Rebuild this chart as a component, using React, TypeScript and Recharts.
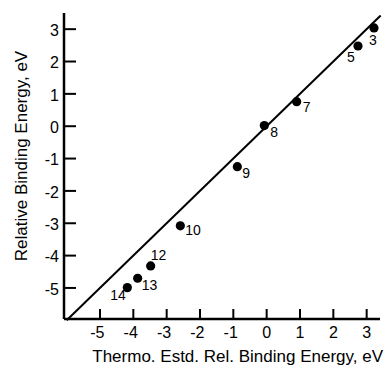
import React from "react";
import {
  ScatterChart,
  Scatter,
  XAxis,
  YAxis,
  ReferenceLine,
  Label,
} from "recharts";

// ---- data ----
const POINT_IDS = ["3", "5", "7", "8", "9", "10", "12", "13", "14"];
const THERMO_X = [3.22, 2.74, 0.9, -0.07, -0.88, -2.59, -3.48, -3.87, -4.18];
const RELATIVE_Y = [3.04, 2.48, 0.76, 0.02, -1.25, -3.08, -4.32, -4.7, -4.99];
const X_TICKS = [-5, -4, -3, -2, -1, 0, 1, 2, 3];
const Y_TICKS = [-5, -4, -3, -2, -1, 0, 1, 2, 3];
const X_DOMAIN = [-6.08, 3.4];
const Y_DOMAIN = [-5.96, 3.5];
const IDENTITY_LINE = [-6, 3.42];
const X_TITLE = "Thermo. Estd. Rel. Binding Energy, eV";
const Y_TITLE = "Relative Binding Energy, eV";

// ---- styles ----
const FONT = "'Liberation Sans', Arial, Helvetica, sans-serif";
const LABEL_OFFSET: Record<string, [number, number, string]> = {
  "3": [-5, 17, "start"],
  "5": [-11, 16, "start"],
  "7": [6, 10, "start"],
  "8": [6, 11, "start"],
  "9": [5, 11, "start"],
  "10": [5, 9, "start"],
  "12": [0, -6, "start"],
  "13": [4, 12, "start"],
  "14": [-17, 12, "start"],
};

const points = POINT_IDS.map((id, i) => ({ id, x: THERMO_X[i], y: RELATIVE_Y[i] }));

const BottomTick = (props: any) => {
  const { x, y, payload } = props;
  return (
    <g>
      <line x1={x} y1={y} x2={x} y2={y - 10} stroke="#000" strokeWidth={2} />
      <text x={x + 4.5} y={y + 19} textAnchor="end" fontSize={16} fontFamily={FONT} fill="#000">
        {String(payload.value)}
      </text>
    </g>
  );
};

const TopTick = (props: any) => {
  const { x, y } = props;
  return <line x1={x} y1={y} x2={x} y2={y + 12} stroke="#000" strokeWidth={2} />;
};

const LeftTick = (props: any) => {
  const { x, y, payload } = props;
  return (
    <g>
      <line x1={x} y1={y} x2={x + 12} y2={y} stroke="#000" strokeWidth={2} />
      <text x={x - 5} y={y + 6.7} textAnchor="end" fontSize={16} fontFamily={FONT} fill="#000">
        {String(payload.value)}
      </text>
    </g>
  );
};

const RightTick = (props: any) => {
  const { x, y } = props;
  return <line x1={x} y1={y} x2={x - 11} y2={y} stroke="#000" strokeWidth={2} />;
};

const Dot = (props: any) => {
  const { cx, cy, payload } = props;
  const off = LABEL_OFFSET[payload.id] || [5, 10, "start"];
  return (
    <g>
      <circle cx={cx} cy={cy} r={4.6} fill="#000" />
      <text
        x={cx + off[0]}
        y={cy + off[1]}
        textAnchor={off[2] as any}
        fontSize={14}
        fontFamily={FONT}
        fill="#000"
      >
        {payload.id}
      </text>
    </g>
  );
};

const XTitle = (props: any) => {
  const vb = props.viewBox || { x: 64, y: 319, width: 316, height: 49 };
  return (
    <text
      x={vb.x + vb.width + 3}
      y={vb.y + 43}
      textAnchor="end"
      fontSize={17}
      fontFamily={FONT}
      fill="#000"
    >
      {X_TITLE}
    </text>
  );
};

const YTitle = (props: any) => {
  const vb = props.viewBox || { x: 0, y: 13, width: 64, height: 306 };
  const cx = vb.x + 27;
  const cy = 156;
  return (
    <text
      x={cx}
      y={cy}
      transform={`rotate(-90, ${cx}, ${cy})`}
      textAnchor="middle"
      fontSize={17}
      fontFamily={FONT}
      fill="#000"
    >
      {Y_TITLE}
    </text>
  );
};

export default function App() {
  return (
    <div style={{ position: "absolute", left: 0, top: 0, width: 385, height: 368, background: "#fff" }}>
      <ScatterChart width={385} height={368} margin={{ top: 13, right: 5, bottom: 0, left: 0 }}>
        <XAxis
          xAxisId="bottom"
          dataKey="x"
          type="number"
          domain={X_DOMAIN}
          ticks={X_TICKS}
          orientation="bottom"
          height={49}
          allowDataOverflow
          tickSize={0}
          tickMargin={0}
          tickLine={false}
          tick={<BottomTick />}
          interval={0}
          axisLine={{ stroke: "#000", strokeWidth: 2.5 }}
        >
          <Label content={<XTitle />} />
        </XAxis>
        <XAxis
          xAxisId="top"
          dataKey="x"
          type="number"
          domain={X_DOMAIN}
          ticks={X_TICKS}
          orientation="top"
          height={0}
          allowDataOverflow
          tickSize={0}
          tickMargin={0}
          tickLine={false}
          tick={<TopTick />}
          interval={0}
          axisLine={{ stroke: "#000", strokeWidth: 2.5 }}
        />
        <YAxis
          yAxisId="left"
          dataKey="y"
          type="number"
          domain={Y_DOMAIN}
          ticks={Y_TICKS}
          orientation="left"
          width={64}
          allowDataOverflow
          tickSize={0}
          tickMargin={0}
          tickLine={false}
          tick={<LeftTick />}
          interval={0}
          axisLine={{ stroke: "#000", strokeWidth: 2.5 }}
        >
          <Label content={<YTitle />} />
        </YAxis>
        <YAxis
          yAxisId="right"
          dataKey="y"
          type="number"
          domain={Y_DOMAIN}
          ticks={Y_TICKS}
          orientation="right"
          width={0}
          allowDataOverflow
          tickSize={0}
          tickMargin={0}
          tickLine={false}
          tick={<RightTick />}
          interval={0}
          axisLine={{ stroke: "#000", strokeWidth: 2.5 }}
        />
        <ReferenceLine
          xAxisId="bottom"
          yAxisId="left"
          segment={[
            { x: IDENTITY_LINE[0], y: IDENTITY_LINE[0] },
            { x: IDENTITY_LINE[1], y: IDENTITY_LINE[1] },
          ]}
          stroke="#000"
          strokeWidth={2}
          ifOverflow="visible"
        />
        <Scatter
          xAxisId="bottom"
          yAxisId="left"
          data={points}
          shape={<Dot />}
          isAnimationActive={false}
        />
      </ScatterChart>
    </div>
  );
}
